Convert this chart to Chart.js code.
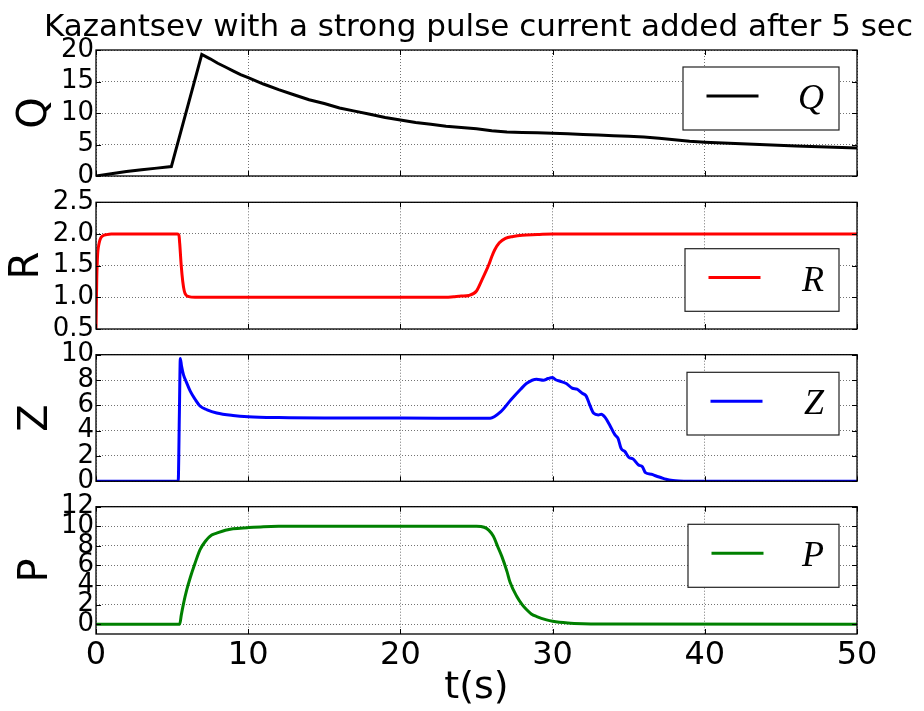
<!DOCTYPE html>
<html>
<head>
<meta charset="utf-8">
<title>Kazantsev pulse current</title>
<script src="https://cdn.jsdelivr.net/npm/chart.js@4.4.1/dist/chart.umd.min.js"></script>
<style>
  html, body { margin: 0; padding: 0; background: #fff; }
  #wrap { position: relative; width: 924px; height: 711px; overflow: hidden; }
  #wrap canvas { position: absolute; left: 0; }
</style>
</head>
<body>
<div id="wrap">
  <canvas id="chartQ" width="924" height="200" style="top:0px"></canvas>
  <canvas id="chartR" width="924" height="175" style="top:178px"></canvas>
  <canvas id="chartZ" width="924" height="176" style="top:330px"></canvas>
  <canvas id="chartP" width="924" height="229" style="top:482px"></canvas>
</div>
<script>
const chartTitle = 'Kazantsev with a strong pulse current added after 5 sec';

// shared time axis
const tTicks = [0, 10, 20, 30, 40, 50];

// Q
const qTime = [0, 1, 2, 3, 4, 4.95, 6.95, 7.5, 8, 8.5, 9, 9.5, 10, 11, 12, 13, 14, 15, 16, 17, 18, 19, 20,
    21, 22, 23, 24, 25, 26, 27, 28, 29, 30, 31, 32, 33, 34, 35, 36, 37, 38, 39, 40, 42, 44, 46, 48, 50];
const qValues = [0, 0.35, 0.7, 1.0, 1.25, 1.5, 19.3, 18.6, 17.9, 17.3, 16.7, 16.1, 15.6, 14.6, 13.7, 12.9, 12.1, 11.5, 10.8, 10.3, 9.8, 9.3, 8.9,
    8.5, 8.2, 7.9, 7.7, 7.5, 7.2, 7.0, 6.9, 6.85, 6.8, 6.7, 6.6, 6.5, 6.4, 6.3, 6.2, 6.0, 5.75, 5.5, 5.35, 5.15, 4.95, 4.75, 4.6, 4.45];
const qTicks = [0, 5, 10, 15, 20];
const qLimits = [0, 20];

// R
const rTime = [0, 0.05, 0.1, 0.2, 0.3, 0.45, 0.7, 1, 5.35, 5.45, 5.5, 5.6, 5.7, 5.8, 5.9, 6.1, 6.5,
    23, 23.5, 24, 24.5, 25, 25.35, 25.6, 25.8, 26, 26.2, 26.5, 26.9, 27.4, 28, 29, 30, 50];
const rValues = [0.5, 1.3, 1.65, 1.85, 1.93, 1.97, 1.99, 2.0, 2.0, 1.98, 1.85, 1.5, 1.25, 1.1, 1.04, 1.01, 1.0,
    1.0, 1.01, 1.02, 1.03, 1.1, 1.27, 1.4, 1.51, 1.64, 1.75, 1.86, 1.93, 1.96, 1.98, 1.99, 2.0, 2.0];
const rTicks = [0.5, 1.0, 1.5, 2.0, 2.5];
const rLimits = [0.5, 2.5];

// Z
const zTime = [0, 5.4, 5.48, 5.54, 5.62, 5.75, 5.95, 6.2, 6.5, 6.83, 7.3, 7.93, 9, 10, 12, 15, 20, 25,
    25.9, 26.6, 27.25, 27.9, 28.3, 28.95, 29.4, 29.7, 30, 30.2, 30.5, 30.9, 31.3, 31.6, 31.95, 32.2, 32.4,
    32.7, 33.0, 33.2, 33.45, 33.75, 34.1, 34.3, 34.5, 34.75, 35.0, 35.3, 35.65, 35.9, 36.1, 36.5, 36.8,
    37.1, 37.45, 37.9, 38.3, 39, 50];
const zValues = [0, 0, 5.5, 9.7, 9.1, 8.4, 7.8, 7.1, 6.5, 5.95, 5.65, 5.4, 5.2, 5.1, 5.03, 5.0, 5.0, 4.98,
    4.98, 5.5, 6.42, 7.27, 7.74, 8.06, 7.98, 8.12, 8.2, 8.02, 7.9, 7.72, 7.35, 7.28, 6.95, 6.75, 6.16,
    5.37, 5.24, 5.3, 5.05, 4.45, 3.66, 3.4, 2.6, 2.35, 1.9, 1.75, 1.29, 1.15, 0.68, 0.55, 0.42,
    0.3, 0.16, 0.06, 0.02, 0, 0];
const zTicks = [0, 2, 4, 6, 8, 10];
const zLimits = [0, 10];

// P
const pTime = [0, 5.5, 5.6, 5.75, 5.96, 6.2, 6.5, 6.83, 7.2, 7.6, 7.93, 8.5, 9, 9.94, 11, 12,
    25, 25.5, 25.8, 26.1, 26.4, 26.67, 27.0, 27.2, 27.65, 28.0, 28.3, 28.6, 28.96, 29.6, 30, 31, 32, 33, 50];
const pValues = [0, 0, 0.9, 2.1, 3.5, 4.8, 6.2, 7.6, 8.5, 9.1, 9.3, 9.6, 9.75, 9.86, 9.96, 10,
    10, 9.9, 9.6, 9.0, 7.9, 6.9, 5.4, 4.3, 2.83, 2.0, 1.47, 1.05, 0.78, 0.44, 0.3, 0.12, 0.04, 0.01, 0];
const pTicks = [0, 2, 4, 6, 8, 10, 12];
const pLimits = [-1, 12];

const gridColor = 'rgba(0,0,0,0.55)';
const tickFont = { family: 'DejaVu Sans', size: 26 };

// frame with inward ticks, the little legend box and (optionally) the figure title
const panelFrame = {
    id: 'panelFrame',
    afterDraw(chart, args, opts) {
        const { ctx, chartArea: a, scales } = chart;
        ctx.save();

        ctx.strokeStyle = '#000';
        ctx.lineWidth = 1;
        ctx.beginPath();
        scales.y.ticks.forEach(t => {
            const py = Math.round(scales.y.getPixelForValue(t.value)) + 0.5;
            ctx.moveTo(a.left, py); ctx.lineTo(a.left + 5, py);
            ctx.moveTo(a.right, py); ctx.lineTo(a.right - 5, py);
        });
        scales.x.ticks.forEach(t => {
            const px = Math.round(scales.x.getPixelForValue(t.value)) + 0.5;
            ctx.moveTo(px, a.top); ctx.lineTo(px, a.top + 5);
            ctx.moveTo(px, a.bottom); ctx.lineTo(px, a.bottom - 5);
        });
        ctx.stroke();
        ctx.lineWidth = 1.3;
        ctx.strokeRect(a.left, a.top, a.right - a.left, a.bottom - a.top);

        // legend
        const b = opts.box;
        const bx = a.right - b.right - b.width;
        const by = a.top + b.top;
        const cy = by + b.height / 2;
        ctx.fillStyle = '#fff';
        ctx.fillRect(bx, by, b.width, b.height);
        ctx.strokeStyle = '#222';
        ctx.lineWidth = 1.2;
        ctx.strokeRect(bx, by, b.width, b.height);

        ctx.strokeStyle = opts.color;
        ctx.lineWidth = 3;
        ctx.beginPath();
        ctx.moveTo(bx + 23.5, cy - 2.5);
        ctx.lineTo(bx + 75.5, cy - 2.5);
        ctx.stroke();

        ctx.fillStyle = '#000';
        ctx.font = 'italic 36px "Liberation Serif"';
        ctx.textAlign = 'right';
        ctx.textBaseline = 'alphabetic';
        ctx.fillText(opts.label, bx + b.width - 15, cy + 10.5);

        if (opts.title) {
            ctx.font = '31px "DejaVu Sans"';
            ctx.textAlign = 'center';
            ctx.fillText(opts.title, (a.left + a.right) / 2 + 2, 36);
        }
        ctx.restore();
    }
};

function xScale(showLabels) {
    return {
        type: 'linear',
        min: 0,
        max: 50,
        afterBuildTicks: s => { s.ticks = tTicks.map(v => ({ value: v })); },
        afterFit: s => { s.height = showLabels ? 77 : 0; },
        grid: { color: gridColor, lineWidth: 1, drawTicks: false },
        border: { display: false, dash: [1, 2] },
        ticks: {
            display: showLabels,
            color: '#000',
            font: { family: 'DejaVu Sans', size: 32 },
            padding: 2,
            maxRotation: 0,
            autoSkip: false
        },
        title: {
            display: showLabels,
            text: 't(s)',
            color: '#000',
            font: { family: 'DejaVu Sans', size: 38 },
            padding: { top: 0, bottom: 0 }
        }
    };
}

function yScale(ticks, limits, name, titlePad, fmt) {
    return {
        min: limits[0],
        max: limits[1],
        afterBuildTicks: s => { s.ticks = ticks.map(v => ({ value: v })); },
        afterFit: s => { s.width = 96; },
        grid: { color: gridColor, lineWidth: 1, drawTicks: false },
        border: { display: false, dash: [1, 2] },
        ticks: {
            color: '#000',
            font: tickFont,
            padding: 2,
            autoSkip: false,
            callback: fmt || (v => String(v))
        },
        title: {
            display: true,
            text: name,
            color: '#000',
            font: { family: 'DejaVu Sans', size: 40 },
            padding: { top: titlePad, bottom: 0 }
        }
    };
}

function makePanel(id, times, values, color, name, ticks, limits, cfg) {
    const points = times.map((t, i) => ({ x: t, y: values[i] }));
    return new Chart(document.getElementById(id), {
        type: 'line',
        data: {
            datasets: [{
                label: name,
                data: points,
                borderColor: color,
                borderWidth: 3,
                pointRadius: 0,
                // Q is drawn with straight segments, the others are smoothed
                cubicInterpolationMode: cfg.smooth ? 'monotone' : 'default',
                tension: 0,
                fill: false
            }]
        },
        options: {
            responsive: false,
            animation: false,
            devicePixelRatio: 1,
            layout: { padding: { left: 0, right: 67, top: cfg.padTop, bottom: cfg.padBottom } },
            scales: {
                x: xScale(cfg.showX),
                y: yScale(ticks, limits, name, cfg.titlePad, cfg.fmt)
            },
            plugins: {
                legend: { display: false },
                tooltip: { enabled: false },
                panelFrame: { color: color, label: name, box: cfg.box, title: cfg.title }
            }
        },
        plugins: [panelFrame]
    });
}

makePanel('chartQ', qTime, qValues, '#000000', 'Q', qTicks, qLimits, {
    padTop: 50, padBottom: 24, showX: false, titlePad: 12, title: chartTitle, smooth: false,
    box: { right: 18, width: 156, top: 17, height: 63 }
});
makePanel('chartR', rTime, rValues, '#ff0000', 'R', rTicks, rLimits, {
    padTop: 24.3, padBottom: 24, showX: false, titlePad: 4, smooth: true, fmt: v => v.toFixed(1),
    box: { right: 18, width: 154, top: 46.4, height: 62.6 }
});
makePanel('chartZ', zTime, zValues, '#0000ff', 'Z', zTicks, zLimits, {
    padTop: 24.7, padBottom: 24.7, showX: false, titlePad: 13, smooth: true,
    box: { right: 18, width: 152, top: 17.6, height: 62.7 }
});
makePanel('chartP', pTime, pValues, '#008000', 'P', pTicks, pLimits, {
    padTop: 24.7, padBottom: 0, showX: true, titlePad: 13, smooth: true,
    box: { right: 18, width: 151, top: 17.6, height: 63 }
});
</script>
</body>
</html>
